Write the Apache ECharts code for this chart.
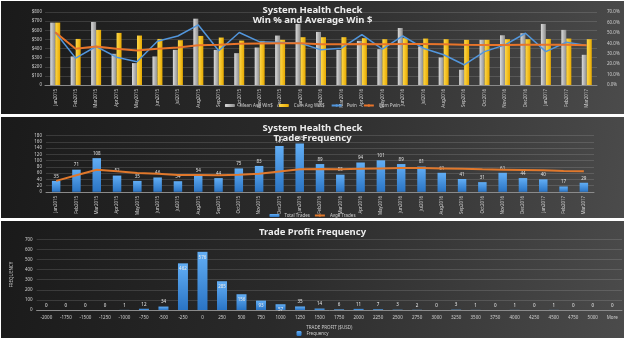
<!DOCTYPE html>
<html>
<head>
<meta charset="utf-8">
<script src="https://cdn.jsdelivr.net/npm/echarts@6/dist/echarts.min.js"></script>
<style>
body{margin:0;background:#fff;width:625px;height:340px;overflow:hidden;position:relative}
.panel{position:absolute;left:1px;width:623px;background:linear-gradient(100deg,#1a1a1a 0%,#2a2a2a 45%,#4b4b4b 100%);}
#echart1{top:1px;height:113px}
#echart2{top:117px;height:101px}
#echart3{top:221px;height:117px}
</style>
</head>
<body>
<div class="panel" id="echart1"></div>
<div class="panel" id="echart2"></div>
<div class="panel" id="echart3"></div>
<script>
// months shown on first two charts
var months = ['Jan2015','Feb2015','Mar2015','Apr2015','May2015','Jun2015','Jul2015','Aug2015','Sep2015','Oct2015','Nov2015','Dec2015',
    'Jan2016','Feb2016','Mar2016','Apr2016','May2016','Jun2016','Jul2016','Aug2016','Sep2016','Oct2016','Nov2016','Dec2016',
    'Jan2017','Feb2017','Mar2017'];

// chart 1 - win % and average win $
var avgWin = [684, 313, 691, 342, 240, 313, 385, 727, 385, 349, 411, 542, 669, 582, 385, 484, 393, 625, 422, 302, 167, 495, 545, 567, 669, 604, 331];
var cumAvgWin = [684, 505, 604, 571, 542, 505, 491, 538, 520, 487, 484, 495, 524, 524, 524, 513, 502, 513, 509, 502, 495, 495, 502, 502, 505, 509, 502];
var pwin = [50.5, 25.8, 36.9, 26.7, 22.3, 42, 47, 57.6, 32.8, 50.3, 41.4, 40.7, 40, 33.7, 35.3, 48.4, 34.4, 47, 35.3, 29, 19.4, 32, 38.5, 49.6, 32, 41, 37.8];
var cumPwin = [50.6, 34.7, 36.9, 34.7, 33.1, 34.7, 36, 38.2, 38.5, 39.5, 39.8, 40.1, 40.1, 39.1, 39, 39.2, 39.1, 39.3, 39.2, 39, 38.5, 38.4, 38.4, 38.7, 38.5, 38.6, 38.2];

// chart 2 - trade frequency
var totalTrades = [35, 71, 108, 52, 35, 46, 34, 54, 44, 75, 83, 147, 155, 89, 55, 94, 101, 89, 81, 61, 41, 31, 61, 44, 40, 17, 29];
var avgeTrades = [35, 53, 71, 66, 60, 58, 54, 54, 53, 55, 58, 65, 72, 73, 72, 74, 75, 76, 76, 75, 74, 72, 71, 70, 69, 67, 66];

// chart 3 - trade profit histogram
var profitBins = ['-2000','-1750','-1500','-1250','-1000','-750','-500','-250','0','250','500','750','1000','1250','1500',
    '1750','2000','2250','2500','2750','3000','3250','3500','3750','4000','4250','4500','4750','5000','More'];
var frequency = [0, 0, 0, 0, 1, 12, 34, 462, 576, 285, 156, 93, 57, 35, 14, 6, 11, 7, 3, 2, 0, 3, 1, 0, 1, 0, 1, 0, 0, 0];

var font = 'Noto Sans';
var labelColor = '#cfcfcf';
var gridColor = 'rgba(255,255,255,0.13)';

function titleOpt(text, top) {
    return {
        text: text,
        left: 'center',
        top: top,
        textStyle: { color: '#ececec', fontSize: 9.5, fontWeight: 'bold', fontFamily: font, lineHeight: 10 }
    };
}

function catAxis(data) {
    return {
        type: 'category',
        data: data,
        axisTick: { show: false },
        axisLine: { lineStyle: { color: '#8a8a8a' } },
        axisLabel: { color: labelColor, fontSize: 4.5, rotate: 90, interval: 0, margin: 4, fontFamily: font }
    };
}

function grad(c1, c2, horizontal) {
    return new echarts.graphic.LinearGradient(0, 0, horizontal ? 1 : 0, horizontal ? 0 : 1, [
        { offset: 0, color: c1 }, { offset: 1, color: c2 }
    ]);
}

// ---- chart 1 ----
var option1 = {
    animation: false,
    title: titleOpt('System Health Check\nWin % and Average Win $', -1),
    grid: { left: 44, top: 11, width: 552, height: 73 },
    legend: {
        bottom: 1,
        left: 'center',
        itemWidth: 10,
        itemHeight: 3,
        itemGap: 6,
        textStyle: { color: labelColor, fontSize: 4.5, fontFamily: font },
        data: ['Mean Avg Win$', 'Cum Avg Win$', 'Pwin', 'Cum Pwin']
    },
    xAxis: catAxis(months),
    yAxis: [{
        type: 'value', min: 0, max: 800, interval: 100,
        axisLabel: { color: labelColor, fontSize: 4.5, fontFamily: font, margin: 3,
            formatter: function (v) { return v === 0 ? '0' : '$' + v; } },
        splitLine: { lineStyle: { color: gridColor } }
    }, {
        type: 'value', min: 0, max: 70, interval: 10,
        axisLabel: { color: labelColor, fontSize: 4.5, fontFamily: font, margin: 10,
            formatter: function (v) { return v.toFixed(1) + '%'; } },
        splitLine: { show: false }
    }],
    series: [{
        name: 'Mean Avg Win$', type: 'bar', data: avgWin, barWidth: 5, barGap: '0%',
        itemStyle: { color: grad('#dcdcdc', '#8c8c8c', true) }
    }, {
        name: 'Cum Avg Win$', type: 'bar', data: cumAvgWin, barWidth: 5,
        itemStyle: { color: grad('#ffd84a', '#e6a900', true) }
    }, {
        name: 'Pwin', type: 'line', yAxisIndex: 1, data: pwin, symbol: 'none',
        lineStyle: { color: '#5296dc', width: 1.5 }, itemStyle: { color: '#5296dc' }
    }, {
        name: 'Cum Pwin', type: 'line', yAxisIndex: 1, data: cumPwin, symbol: 'none',
        lineStyle: { color: '#e8742a', width: 2 }, itemStyle: { color: '#e8742a' }
    }]
};

// ---- chart 2 ----
var option2 = {
    animation: false,
    title: titleOpt('System Health Check\nTrade Frequency', 1),
    grid: { left: 45, top: 18.7, width: 548, height: 62.6 },
    legend: {
        top: 91,
        left: 'center',
        itemWidth: 10,
        itemHeight: 3,
        itemGap: 4,
        textStyle: { color: labelColor, fontSize: 4.5, fontFamily: font },
        data: ['Total Trades', 'Avge Trades']
    },
    xAxis: catAxis(months),
    yAxis: {
        type: 'value', min: 0, max: 180, interval: 20,
        axisLabel: { color: labelColor, fontSize: 4.5, fontFamily: font, margin: 4 },
        splitLine: { lineStyle: { color: gridColor } }
    },
    series: [{
        name: 'Total Trades', type: 'bar', data: totalTrades, barWidth: 8.5,
        itemStyle: { color: grad('#62aef5', '#2a74c4', false) },
        label: { show: true, position: 'top', distance: 2, color: '#e0e0e0', fontSize: 4.5, fontFamily: font }
    }, {
        name: 'Avge Trades', type: 'line', data: avgeTrades, symbol: 'none',
        lineStyle: { color: '#e0782c', width: 2 }, itemStyle: { color: '#e0782c' }
    }]
};

// ---- chart 3 ----
var freqData = frequency.map(function (v) {
    return {
        value: v,
        label: v >= 50
            ? { position: 'insideTop', distance: 3 }
            : { position: 'top', distance: 2 }
    };
});

var option3 = {
    animation: false,
    title: titleOpt('Trade Profit Frequency', 1),
    grid: { left: 21, top: 18.3, width: 600, height: 70.7 },
    legend: {
        top: 105,
        left: 'center',
        itemWidth: 5,
        itemHeight: 5,
        textStyle: { color: labelColor, fontSize: 4.5, fontFamily: font },
        data: ['Frequency']
    },
    xAxis: {
        type: 'category',
        data: profitBins,
        name: 'TRADE PROFIT ($USD)',
        nameLocation: 'middle',
        nameGap: 10,
        nameTextStyle: { color: labelColor, fontSize: 4.5, fontFamily: font },
        axisTick: { show: false },
        axisLine: { lineStyle: { color: '#8a8a8a' } },
        axisLabel: { color: labelColor, fontSize: 4.5, interval: 0, margin: 5, fontFamily: font }
    },
    yAxis: {
        type: 'value', min: 0, max: 700, interval: 100,
        name: 'FREQUENCY',
        nameLocation: 'middle',
        nameGap: 12,
        nameTextStyle: { color: labelColor, fontSize: 4.5, fontFamily: font },
        axisLabel: { color: labelColor, fontSize: 4.5, fontFamily: font, margin: 4 },
        splitLine: { lineStyle: { color: gridColor } }
    },
    series: [{
        name: 'Frequency', type: 'bar', data: freqData, barWidth: 10,
        itemStyle: { color: grad('#62aef5', '#2a74c4', false) },
        label: { show: true, color: '#ececec', fontSize: 4.5, fontFamily: font }
    }]
};

echarts.init(document.getElementById('echart1')).setOption(option1);
echarts.init(document.getElementById('echart2')).setOption(option2);
echarts.init(document.getElementById('echart3')).setOption(option3);
</script>
</body>
</html>
